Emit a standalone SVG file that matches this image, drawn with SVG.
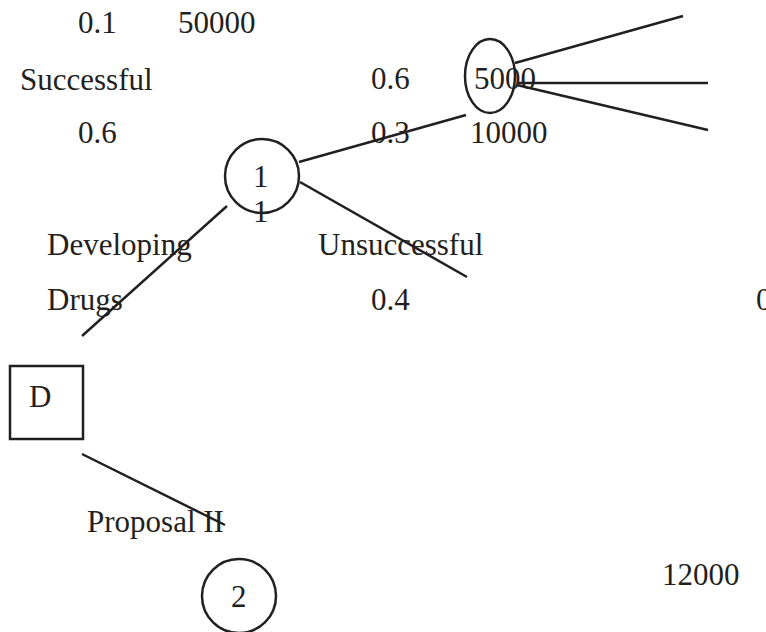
<svg xmlns="http://www.w3.org/2000/svg" width="766" height="632" viewBox="0 0 766 632">
<style>
text{font-family:"Liberation Serif","Times New Roman",serif;font-size:31px;fill:#231f20}
.s{fill:none;stroke:#231f20;stroke-width:2.5}
</style>
<rect width="766" height="632" fill="#fff"/>
<g id="connectors" class="s">
<line x1="299" y1="162" x2="466" y2="115"/>
<line x1="300" y1="182" x2="467" y2="277"/>
<line x1="227" y1="206" x2="82" y2="336"/>
<line x1="515" y1="63" x2="683" y2="16"/>
<line x1="517" y1="83" x2="708" y2="83"/>
<line x1="517" y1="85" x2="708" y2="130"/>
<line x1="82" y1="454" x2="225" y2="525"/>
</g>
<g id="node-1"><circle class="s" cx="262" cy="176" r="37"/><text x="253" y="187">1</text><text x="253" y="222">1</text></g>
<g id="node-5000"><ellipse class="s" cx="490" cy="76" rx="25" ry="37"/><text x="474" y="89">5000</text></g>
<g id="node-D"><rect class="s" x="10" y="366" width="73" height="73"/><text x="29" y="407">D</text></g>
<g id="node-2"><circle class="s" cx="239" cy="596" r="37"/><text x="231" y="607">2</text></g>
<g id="labels">
<text x="78" y="33">0.1</text>
<text x="178" y="33">50000</text>
<text x="20" y="90">Successful</text>
<text x="78" y="143">0.6</text>
<text x="371" y="89">0.6</text>
<text x="371" y="143">0.3</text>
<text x="470" y="143">10000</text>
<text x="47" y="255">Developing</text>
<text x="318" y="255">Unsuccessful</text>
<text x="47" y="310">Drugs</text>
<text x="371" y="310">0.4</text>
<text x="756" y="310">0</text>
<text x="87" y="532">Proposal II</text>
<text x="662" y="585">12000</text>
</g>
</svg>
